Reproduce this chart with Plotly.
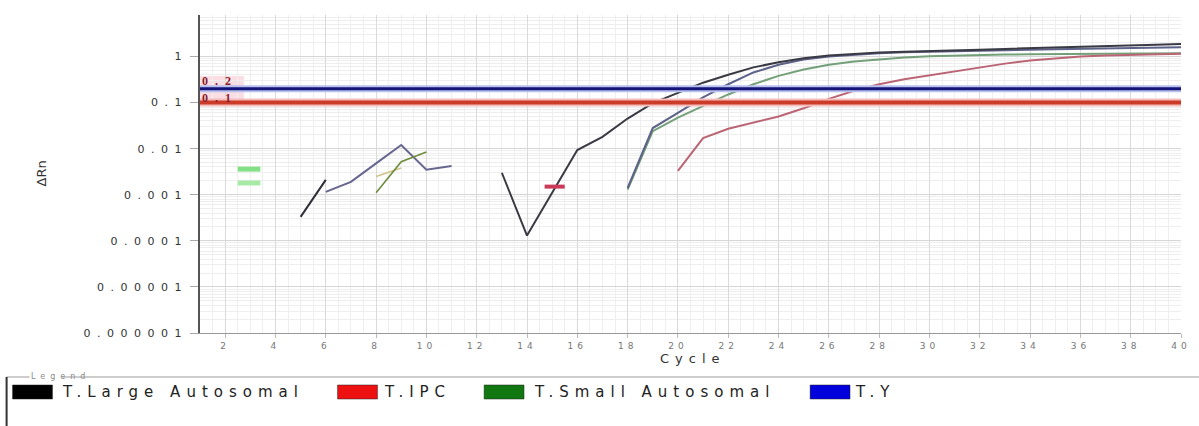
import json
import numpy as np
import plotly.graph_objects as go

# ---- amplification data (delta Rn per cycle) ----
large_cycles_a = [5, 6]
large_drn_a = [0.00033, 0.0021]
large_cycles_b = list(range(13, 41))
large_drn_b = [0.003, 0.00013, 0.0011, 0.0093, 0.018, 0.045, 0.097, 0.165, 0.27, 0.40,
               0.58, 0.75, 0.92, 1.05, 1.14, 1.22, 1.27, 1.30, 1.34, 1.40, 1.46, 1.52,
               1.58, 1.63, 1.68, 1.74, 1.80, 1.86]

y_cycles_a = [6, 7, 8, 9, 10, 11]
y_drn_a = [0.00115, 0.0019, 0.0048, 0.012, 0.0035, 0.0042]
y_cycles_b = list(range(18, 41))
y_drn_b = [0.0014, 0.028, 0.06, 0.13, 0.25, 0.45, 0.66, 0.86, 1.0, 1.1, 1.18, 1.24,
           1.28, 1.31, 1.34, 1.37, 1.40, 1.43, 1.46, 1.49, 1.52, 1.55, 1.58]

small_cycles_a = [8, 9, 10]
small_drn_a = [0.0011, 0.0052, 0.0085]
small_cycles_c = [8, 9]
small_drn_c = [0.0025, 0.0038]
small_cycles_b = list(range(18, 41))
small_drn_b = [0.0013, 0.024, 0.047, 0.085, 0.15, 0.25, 0.38, 0.52, 0.66, 0.78, 0.87,
               0.95, 1.01, 1.05, 1.08, 1.10, 1.12, 1.13, 1.14, 1.15, 1.15, 1.16, 1.17]

ipc_cycles_b = list(range(20, 41))
ipc_drn_b = [0.0033, 0.017, 0.027, 0.037, 0.05, 0.075, 0.12, 0.18, 0.25, 0.32, 0.39,
             0.48, 0.58, 0.70, 0.82, 0.92, 1.0, 1.05, 1.09, 1.12, 1.15]

# flagged wells (short marks)
flag_cycles = [2.5, 3.4]
flag_green_hi = [0.0036, 0.0036]
flag_green_lo = [0.0018, 0.0018]
flag_red_cycles = [14.7, 15.5]
flag_red = [0.0015, 0.0015]

# thresholds
thresholds = [0.2, 0.1]
threshold_labels = ["0.2", "0.1"]

# axis ticks
x_ticks = list(range(2, 41, 2))
y_ticks = [1e-6, 1e-5, 1e-4, 1e-3, 1e-2, 1e-1, 1]
y_ticktext = ["0.000001", "0.00001", "0.0001", "0.001", "0.01", "0.1", "1"]

legend_names = ["T.Large Autosomal", "T.IPC", "T.Small Autosomal", "T.Y"]
legend_colors = ["#000000", "#ee1111", "#117711", "#0000dd"]

W, H = 1199, 426
ML, MR, MT, MB = 200, 15, 15, 93
PW, PH = W - ML - MR, H - MT - MB


def px_x(p):
    return (p - ML) / PW


def px_y(p):
    return (H - MB - p) / PH


fig = go.Figure()


def curve(x, y, color, width=2.0):
    fig.add_trace(go.Scatter(x=x, y=y, mode="lines",
                             line=dict(color=color, width=width),
                             hoverinfo="skip", showlegend=False))


# threshold lines with soft halo
thr_styles = [("#b8c0ee", "#14147a", 7, 3), ("#f5bcbc", "#cc3a28", 8, 4)]
for thr, (halo, core, hw, cw) in zip(thresholds, thr_styles):
    for col, w in ((halo, hw), (core, cw)):
        fig.add_shape(type="line", xref="x domain", yref="y", x0=0, x1=1,
                      y0=thr, y1=thr, line=dict(color=col, width=w), layer="above")

curve(small_cycles_b, small_drn_b, "#73a078")
curve(ipc_cycles_b, ipc_drn_b, "#bb6574")
curve(y_cycles_b, y_drn_b, "#5d6288")
curve(large_cycles_b, large_drn_b, "#3a3a44")
curve(large_cycles_a, large_drn_a, "#2e2e36")
curve(y_cycles_a, y_drn_a, "#66668f")
curve(small_cycles_c, small_drn_c, "#cfc485", 1.6)
curve(small_cycles_a, small_drn_a, "#6e8c3e", 1.6)
curve(flag_cycles, flag_green_hi, "#84e084", 5)
curve(flag_cycles, flag_green_lo, "#a6eaa6", 5)
curve(flag_red_cycles, flag_red, "#cc3a5a", 4)

# pale highlight behind threshold labels
fig.add_shape(type="rect", xref="paper", yref="paper",
              x0=px_x(200), x1=px_x(244), y0=px_y(104), y1=px_y(76),
              fillcolor="#fbdde4", line=dict(width=0), layer="below")
thr_font = dict(family="Liberation Serif", size=12, color="#8a1c2c")
fig.add_annotation(x=px_x(201), xref="paper", y=px_y(88.5), yref="paper",
                   text=f"<b>{threshold_labels[0]}</b>", showarrow=False,
                   xanchor="left", yanchor="bottom", align="left", borderpad=0,
                   font=thr_font)
fig.add_annotation(x=px_x(201), xref="paper", y=px_y(89.5), yref="paper",
                   text=f"<b>{threshold_labels[1]}</b>", showarrow=False,
                   xanchor="left", yanchor="top", align="left", borderpad=0,
                   font=thr_font)

fig.update_xaxes(range=[1, 40], tickvals=x_ticks, ticks="outside", ticklen=4,
                 tickcolor="#bbbbbb", tickfont=dict(family="DejaVu Sans", size=9, color="#777777"),
                 showgrid=True, gridcolor="#dadada", gridwidth=1,
                 minor=dict(dtick=0.5, showgrid=True, gridcolor="#efefef"),
                 showline=True, linecolor="#999999", linewidth=1, zeroline=False)
fig.update_yaxes(type="log", range=[-6, 0.9], tickvals=y_ticks, ticktext=y_ticktext,
                 ticks="outside", ticklen=8, tickcolor="#aaaaaa",
                 tickfont=dict(family="DejaVu Sans", size=11, color="#333333"),
                 showgrid=True, gridcolor="#d6d6d6",
                 minor=dict(dtick="D1", showgrid=True, gridcolor="#eeeeee"),
                 showline=True, linecolor="#555555", linewidth=1.5, zeroline=False)

# axis titles
fig.add_annotation(x=px_x(41), y=px_y(173), xref="paper", yref="paper", text="ΔRn",
                   textangle=-90, showarrow=False, xanchor="center", yanchor="middle",
                   font=dict(family="DejaVu Sans", size=13, color="#333333"))
fig.add_annotation(x=px_x(695), y=px_y(358), xref="paper", yref="paper", text="Cycle",
                   showarrow=False, xanchor="center", yanchor="middle",
                   font=dict(family="DejaVu Sans", size=13, color="#333333"))

# legend group box
fig.add_shape(type="rect", xref="paper", yref="paper",
              x0=px_x(6), x1=px_x(1210), y0=px_y(440), y1=px_y(377),
              line=dict(color="#9a9a9a", width=1), fillcolor="rgba(0,0,0,0)")
fig.add_shape(type="line", xref="paper", yref="paper",
              x0=px_x(6), x1=px_x(6), y0=px_y(440), y1=px_y(377),
              line=dict(color="#333333", width=2))
fig.add_annotation(x=px_x(28), y=px_y(376), xref="paper", yref="paper", text="Legend",
                   showarrow=False, xanchor="left", yanchor="middle", align="left",
                   bgcolor="white", borderpad=1,
                   font=dict(family="DejaVu Sans", size=8, color="#8a8a8a"))

square_left = [12, 338, 485, 812]
text_left = [60, 383, 533, 855]
for name, col, sx, tx in zip(legend_names, legend_colors, square_left, text_left):
    fig.add_shape(type="rect", xref="paper", yref="paper",
                  x0=px_x(sx), x1=px_x(sx + 40), y0=px_y(399), y1=px_y(385),
                  fillcolor=col, line=dict(color="#222222", width=0.5))
    fig.add_annotation(x=px_x(tx), y=px_y(392), xref="paper", yref="paper", text=name,
                       showarrow=False, xanchor="left", yanchor="middle", align="left",
                       font=dict(family="DejaVu Sans", size=15, color="#222222"))

fig.update_layout(width=W, height=H, margin=dict(l=ML, r=MR, t=MT, b=MB),
                  paper_bgcolor="white", plot_bgcolor="white", showlegend=False)

# wide letter spacing of the instrument software's labels
label_spacing = {name: "6px" for name in legend_names}
label_spacing.update({"Cycle": "6px", "Legend": "5px"})
label_spacing.update({lab: "7px" for lab in threshold_labels})
spacing_js = """
var gd = document.getElementById('{plot_id}');
var spacing = %s;
gd.querySelectorAll('.ytick text').forEach(function (t) { t.style.letterSpacing = '6.5px'; });
gd.querySelectorAll('.xtick text').forEach(function (t) { t.style.letterSpacing = '4px'; });
gd.querySelectorAll('.annotation-text').forEach(function (t) {
    var s = spacing[t.textContent];
    if (s) { t.style.letterSpacing = s; }
});
""" % json.dumps(label_spacing)

fig.write_html("out.html", post_script=spacing_js)
